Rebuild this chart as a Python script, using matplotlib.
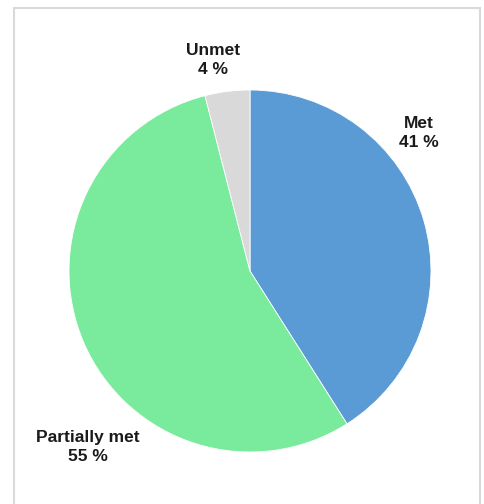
import matplotlib.pyplot as plt
from matplotlib.patches import Rectangle

labels = ["Met", "Partially met", "Unmet"]
shares = [41, 55, 4]
colors = ["#5b9bd5", "#7aeb9c", "#d9d9d9"]

W, H = 485, 504
fig = plt.figure(figsize=(W / 100, H / 100), dpi=100)
fig.patch.set_facecolor("white")

# frame around the chart area (bottom edge runs off the image)
fig.add_artist(Rectangle((14 / W, -10 / H), 466 / W, 506 / H, transform=fig.transFigure,
                         fill=False, edgecolor="#d9d9d9", linewidth=1.5))

# pie centre (250, 271) px, radius 181 px
cx, cy, r = 250, 271, 181
ax = fig.add_axes([(cx - r) / W, (H - cy - r) / H, 2 * r / W, 2 * r / H])
ax.pie(shares, colors=colors, startangle=90, counterclock=False,
       wedgeprops=dict(edgecolor="white", linewidth=0.6))
ax.set_aspect("equal")
ax.set_xlim(-1, 1)
ax.set_ylim(-1, 1)
ax.axis("off")

# label block centres in pixel coords
label_pos = {"Met": (419, 133), "Partially met": (88, 447), "Unmet": (213, 60)}
for lab, val in zip(labels, shares):
    x, y = label_pos[lab]
    fig.text(x / W, 1 - y / H, f"{lab}\n{val} %", ha="center", va="center",
             fontsize=12.5, fontweight="bold", family="Liberation Sans",
             color="#1a1a1a", linespacing=1.3)

fig.savefig("out.png", dpi=100)
